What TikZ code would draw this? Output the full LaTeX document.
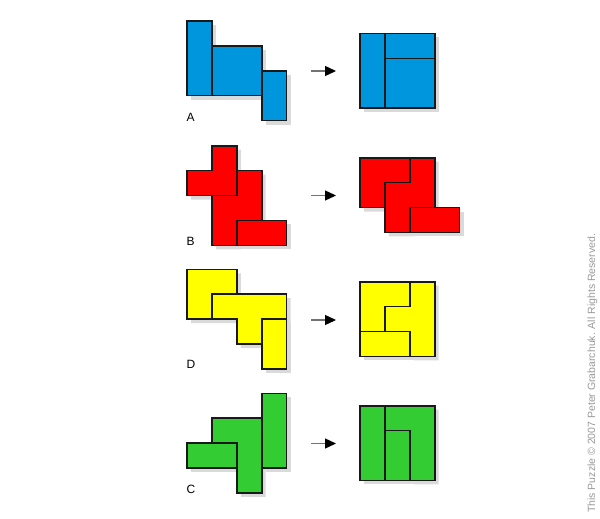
\documentclass[tikz,border=0pt]{standalone}
\usepackage{fontspec}
\setmainfont{Liberation Sans}
\usetikzlibrary{arrows.meta}
\definecolor{pblue}{RGB}{0,150,222}
\definecolor{pred}{RGB}{255,0,0}
\definecolor{pyellow}{RGB}{255,255,0}
\definecolor{pgreen}{RGB}{51,204,51}
\definecolor{shade}{RGB}{218,218,218}
\definecolor{outline}{RGB}{25,25,25}
\tikzset{
  piece/.style={fill=#1, draw=outline, line width=1.6pt, line join=miter},
  shadowpiece/.style={fill=shade, draw=none},
  grid/.style={x=24.9pt, y=-24.9pt},
  stepname/.style={font=\fontsize{12}{12}\selectfont, anchor=base west, inner sep=0pt},
  goarrow/.style={draw=black!55, line width=1.3pt, -{Triangle[length=11pt,width=10pt,color=black]}},
}
% \puzzle{color}{x}{y}{piece1}{piece2}{piece3}
\newcommand{\puzzlegroup}[6]{%
  \begin{scope}[shift={(#2pt+4pt,-#3pt-4pt)}, grid]
    \fill[shadowpiece] #4; \fill[shadowpiece] #5; \fill[shadowpiece] #6;
  \end{scope}
  \begin{scope}[shift={(#2pt,-#3pt)}, grid]
    \filldraw[piece=#1] #4; \filldraw[piece=#1] #5; \filldraw[piece=#1] #6;
  \end{scope}}
\begin{document}
\begin{tikzpicture}[x=1pt,y=-1pt]
\useasboundingbox (0,0) rectangle (600,519);
% Row A
\puzzlegroup{pblue}{187}{21}
  {(0,0)--(1,0)--(1,3)--(0,3)--cycle}
  {(1,1)--(3,1)--(3,3)--(1,3)--cycle}
  {(3,2)--(4,2)--(4,4)--(3,4)--cycle}
\puzzlegroup{pblue}{360}{33.5}
  {(0,0)--(1,0)--(1,3)--(0,3)--cycle}
  {(1,0)--(3,0)--(3,1)--(1,1)--cycle}
  {(1,1)--(3,1)--(3,3)--(1,3)--cycle}
% Row B
\puzzlegroup{pred}{187}{145.7}
  {(1,0)--(2,0)--(2,2)--(0,2)--(0,1)--(1,1)--cycle}
  {(2,1)--(3,1)--(3,3)--(2,3)--(2,4)--(1,4)--(1,2)--(2,2)--cycle}
  {(2,3)--(4,3)--(4,4)--(2,4)--cycle}
\puzzlegroup{pred}{360}{157.7}
  {(0,0)--(2,0)--(2,1)--(1,1)--(1,2)--(0,2)--cycle}
  {(2,0)--(3,0)--(3,2)--(2,2)--(2,3)--(1,3)--(1,1)--(2,1)--cycle}
  {(2,2)--(4,2)--(4,3)--(2,3)--cycle}
% Row D
\puzzlegroup{pyellow}{187}{269.3}
  {(0,0)--(2,0)--(2,1)--(1,1)--(1,2)--(0,2)--cycle}
  {(1,1)--(4,1)--(4,2)--(3,2)--(3,3)--(2,3)--(2,2)--(1,2)--cycle}
  {(3,2)--(4,2)--(4,4)--(3,4)--cycle}
\puzzlegroup{pyellow}{360}{281.7}
  {(0,0)--(2,0)--(2,1)--(1,1)--(1,2)--(0,2)--cycle}
  {(2,0)--(3,0)--(3,3)--(2,3)--(2,2)--(1,2)--(1,1)--(2,1)--cycle}
  {(0,2)--(2,2)--(2,3)--(0,3)--cycle}
% Row C
\puzzlegroup{pgreen}{187}{393.3}
  {(3,0)--(4,0)--(4,3)--(3,3)--cycle}
  {(1,1)--(3,1)--(3,4)--(2,4)--(2,2)--(1,2)--cycle}
  {(0,2)--(2,2)--(2,3)--(0,3)--cycle}
\puzzlegroup{pgreen}{360}{405.7}
  {(0,0)--(1,0)--(1,3)--(0,3)--cycle}
  {(1,0)--(3,0)--(3,3)--(2,3)--(2,1)--(1,1)--cycle}
  {(1,1)--(2,1)--(2,3)--(1,3)--cycle}
% Arrows
\coordinate (a1s) at (311,71);   \coordinate (a1e) at (336,71);
\coordinate (a2s) at (311,195.5);\coordinate (a2e) at (336,195.5);
\coordinate (a3s) at (311,320);  \coordinate (a3e) at (336,320);
\coordinate (a4s) at (311,443.5);\coordinate (a4e) at (336,443.5);
\draw[goarrow] (a1s) -- (a1e);
\draw[goarrow] (a2s) -- (a2e);
\draw[goarrow] (a3s) -- (a3e);
\draw[goarrow] (a4s) -- (a4e);
% Labels
\node[stepname] (la) at (186.5,121.7) {A};
\node[stepname] (lb) at (186.5,245) {B};
\node[stepname] (ld) at (186.5,368.3) {D};
\node[stepname] (lc) at (186.5,493) {C};
% Copyright
\node[rotate=90, anchor=base west, inner sep=0pt, text=black!40,
  font=\fontsize{10.5}{10.5}\selectfont] (copy) at (595,513)
  {This Puzzle © 2007 Peter Grabarchuk. All Rights Reserved.};
\end{tikzpicture}
\end{document}
